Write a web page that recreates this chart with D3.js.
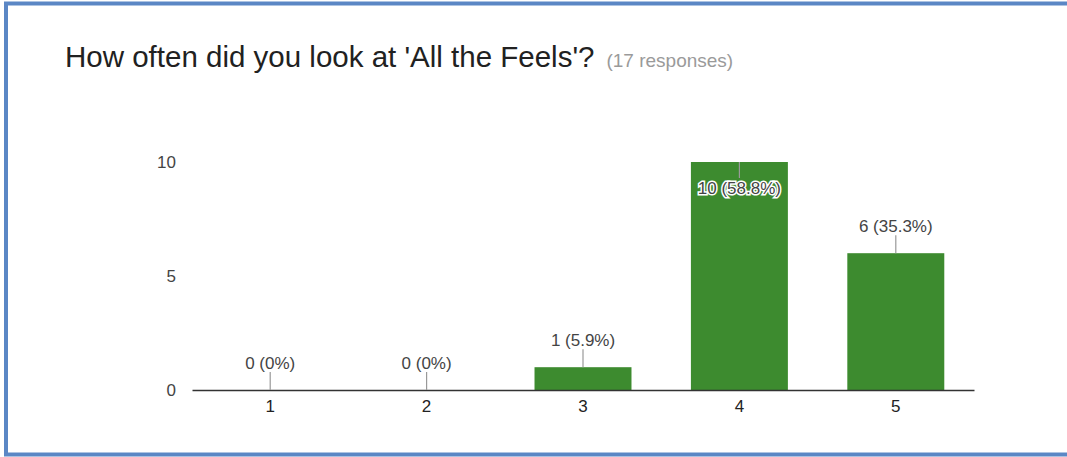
<!DOCTYPE html>
<html lang="en">
<head>
    <meta charset="UTF-8">
    <title>How often did you look at 'All the Feels'?</title>
    <script src="https://d3js.org/d3.v7.min.js"></script>
    <style>
        body { margin: 0; background: #fff; }
        svg { display: block; font-family: Arial, "Liberation Sans", sans-serif; }
    </style>
</head>
<body>
    <svg id="chart"></svg>
    <script>
        var categories = ["1", "2", "3", "4", "5"];
        var counts = [0, 0, 1, 10, 6];
        var labels = ["0 (0%)", "0 (0%)", "1 (5.9%)", "10 (58.8%)", "6 (35.3%)"];
        var yTicks = [0, 5, 10];
        var totalResponses = 17;

        var W = 1067, H = 457;
        var margin = { top: 162, right: 93, bottom: 67, left: 192 },
            width = W - margin.left - margin.right,
            height = H - margin.top - margin.bottom;

        var root = d3.select("#chart").attr("width", W).attr("height", H);

        // frame
        root.append("rect")
            .attr("x", 6).attr("y", 3.5)
            .attr("width", W + 10).attr("height", 451)
            .attr("fill", "none")
            .attr("stroke", "#5b87c5")
            .attr("stroke-width", 4);

        var title = root.append("text")
            .attr("x", 65).attr("y", 67)
            .attr("font-size", "29.5px")
            .attr("fill", "#212121");
        title.append("tspan").text("How often did you look at 'All the Feels'?");
        title.append("tspan")
            .attr("dx", 12)
            .attr("font-size", "19px")
            .attr("fill", "#9a9a9a")
            .text("(" + totalResponses + " responses)");

        var svg = root.append("g")
            .attr("transform", "translate(" + margin.left + "," + margin.top + ")");

        var x = d3.scaleBand().domain(categories).range([0, width]).paddingInner(0.38).paddingOuter(0.19);
        var y = d3.scaleLinear().domain([0, 10]).range([height, 0]);

        // y tick labels (no axis line)
        svg.selectAll(".ytick")
            .data(yTicks)
            .enter().append("text")
            .attr("x", -16)
            .attr("y", function(d) { return y(d); })
            .attr("dy", "0.35em")
            .attr("text-anchor", "end")
            .attr("font-size", "17px")
            .attr("fill", "#444")
            .text(function(d) { return d; });

        var data = categories.map(function(c, i) { return { cat: c, v: counts[i], label: labels[i] }; });

        svg.selectAll(".bar")
            .data(data)
            .enter().append("rect")
            .attr("x", function(d) { return x(d.cat); })
            .attr("y", function(d) { return y(d.v); })
            .attr("width", x.bandwidth())
            .attr("height", function(d) { return height - y(d.v); })
            .attr("fill", "#3d8b2f");

        // x axis baseline
        var xAxis = svg.append("g")
            .attr("transform", "translate(0," + height + ")")
            .call(d3.axisBottom(x).tickSize(0).tickPadding(10));
        xAxis.select(".domain").attr("stroke", "#333").attr("stroke-width", 1.5);
        xAxis.selectAll("text").attr("font-size", "17px").attr("fill", "#222").attr("font-family", "Arial, 'Liberation Sans', sans-serif");

        // value labels with leader lines
        data.forEach(function(d) {
            var cx = x(d.cat) + x.bandwidth() / 2;
            var top = y(d.v);
            var inside = d.v === d3.max(counts);
            var lineEnd = inside ? top + 16 : top - 18;
            svg.append("line")
                .attr("x1", cx).attr("x2", cx)
                .attr("y1", top).attr("y2", lineEnd)
                .attr("stroke", "#999").attr("stroke-width", 1.2);
            var t = svg.append("text")
                .attr("x", cx)
                .attr("y", inside ? top + 32 : top - 21)
                .attr("text-anchor", "middle")
                .attr("font-size", "17px")
                .attr("fill", "#444")
                .text(d.label);
            if (inside) {
                t.attr("stroke", "#fff").attr("stroke-width", 3)
                 .attr("paint-order", "stroke");
            }
        });
    </script>
</body>
</html>
